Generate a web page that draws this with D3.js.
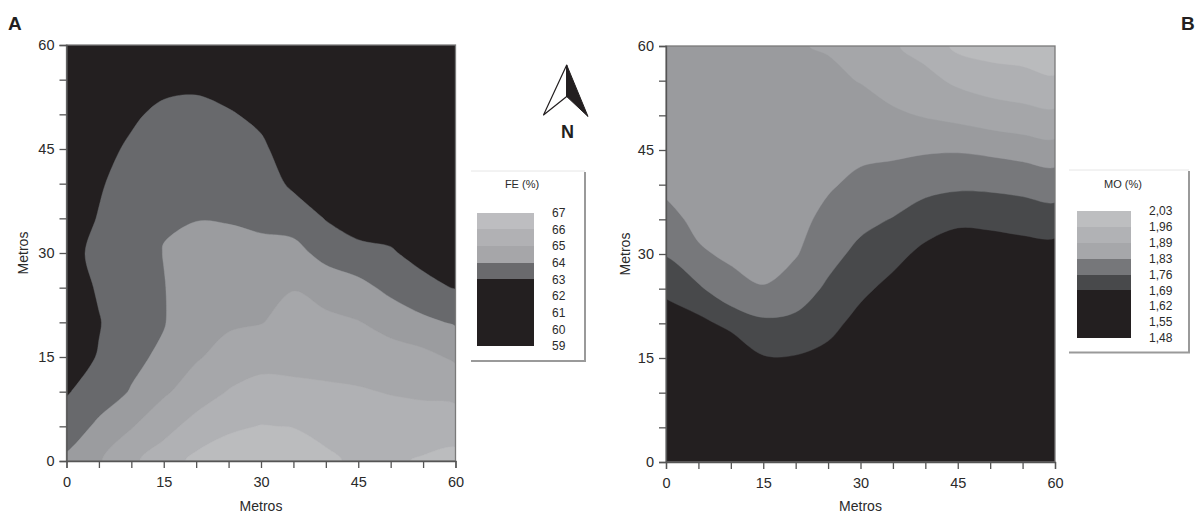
<!DOCTYPE html>
<html><head><meta charset="utf-8">
<script src="https://cdn.jsdelivr.net/npm/d3@7"></script>
<style>
body{margin:0;background:#fff}
text{font-family:"Liberation Sans",Arial,sans-serif;fill:#2a2a2a}
</style>
</head><body>
<svg id="c" width="1204" height="517"></svg>
<script>
// ---------- DATA ----------
const axisTicks = [0,5,10,15,20,25,30,35,40,45,50,55,60];
const axisLabels = [0,15,30,45,60];
const gridStep = 5; // metres between grid samples

// FE (%) grid, rows from y=60 (top) to y=0 (bottom), columns x=0..60
const feGrid = [
  [61.8,61.8,62.0,62.2,62.3,62.2,62.0,61.7,61.7,61.6,61.7,61.7,61.7],
  [61.9,62.0,62.3,62.6,62.8,62.5,62.3,61.9,61.8,61.7,61.8,61.8,61.8],
  [62.0,62.2,62.8,63.3,63.25,63.1,62.75,62.1,61.9,61.8,61.9,61.9,61.9],
  [62.1,62.6,63.2,63.6,63.5,63.45,63.2,62.4,62.1,62.0,62.1,62.0,62.0],
  [62.3,62.9,63.4,63.8,63.7,63.7,63.55,62.8,62.4,62.2,62.3,62.2,62.2],
  [62.5,63.05,63.5,63.95,63.98,63.95,63.85,63.6,62.95,62.6,62.6,62.4,62.4],
  [62.6,63.3,63.55,64.02,64.2,64.25,64.2,64.3,63.7,63.25,63.09,62.7,62.6],
  [62.5,63.1,63.6,63.97,64.44,64.55,64.65,64.96,64.56,64.33,63.73,63.27,62.95],
  [62.4,62.95,63.6,63.95,64.67,64.86,64.96,65.36,65.25,65.04,64.66,64.21,63.89],
  [62.6,63.05,63.8,64.16,64.9,65.36,65.64,65.73,65.7,65.57,65.4,65.28,64.83],
  [62.9,63.6,64.05,64.85,65.49,66.05,66.35,66.2,66.13,66.08,65.95,65.83,65.7],
  [63.55,64.15,64.93,65.67,66.35,66.85,67.03,66.97,66.7,66.45,66.45,66.5,66.55],
  [64.15,64.9,65.82,66.5,67.25,67.5,67.6,67.6,67.2,66.8,66.85,67.1,67.3]
];
const feLevels = [63,64,65,66,67];
const feColors = ["#231f20","#68696c","#9b9c9f","#a6a7aa","#b0b1b4","#bbbcbe"];
const feLegendLabels = ["67","66","65","64","63","62","61","60","59"];
const feLegendColors = ["#bdbdc0","#b1b1b4","#a6a6a9","#6a6a6d","#231f20","#231f20","#231f20","#231f20"];

// MO (%) grid, rows from y=60 (top) to y=0 (bottom), columns x=0..60
const moGrid = [
  [1.87,1.875,1.875,1.875,1.887,1.894,1.92,1.953,1.985,2.046,2.06,2.06,2.07],
  [1.865,1.87,1.87,1.87,1.876,1.879,1.892,1.917,1.94,1.973,1.995,2.009,2.022],
  [1.86,1.865,1.865,1.865,1.867,1.865,1.868,1.88,1.894,1.907,1.923,1.934,1.944],
  [1.855,1.86,1.86,1.86,1.86,1.851,1.844,1.843,1.837,1.835,1.843,1.854,1.864],
  [1.843,1.855,1.855,1.855,1.855,1.837,1.815,1.80,1.782,1.774,1.775,1.783,1.796],
  [1.811,1.845,1.85,1.85,1.848,1.814,1.778,1.757,1.724,1.70,1.706,1.716,1.726],
  [1.764,1.822,1.84,1.845,1.835,1.782,1.742,1.711,1.672,1.66,1.655,1.66,1.66],
  [1.7025,1.749,1.81,1.828,1.794,1.749,1.705,1.67,1.64,1.63,1.62,1.62,1.62],
  [1.66,1.67,1.7095,1.746,1.744,1.711,1.668,1.64,1.61,1.60,1.59,1.59,1.59],
  [1.63,1.64,1.63,1.685,1.685,1.67,1.63,1.61,1.58,1.58,1.57,1.57,1.57],
  [1.60,1.60,1.59,1.60,1.60,1.61,1.60,1.58,1.56,1.56,1.56,1.56,1.56],
  [1.57,1.57,1.56,1.56,1.56,1.57,1.57,1.56,1.55,1.55,1.55,1.55,1.55],
  [1.55,1.55,1.55,1.55,1.55,1.55,1.55,1.55,1.55,1.55,1.55,1.55,1.55]
];
const moLevels = [1.69,1.76,1.83,1.89,1.96,2.03];
const moColors = ["#231f20","#48494b","#77787b","#9a9b9e","#a5a6a9","#afb0b3","#babbbd"];
const moLegendLabels = ["2,03","1,96","1,89","1,83","1,76","1,69","1,62","1,55","1,48"];
const moLegendColors = ["#bdbec0","#b1b2b5","#a6a7aa","#76777a","#48494b","#231f20","#231f20","#231f20"];

// ---------- DRAW ----------
const svg = d3.select("#c");
svg.append("rect").attr("width",1204).attr("height",517).attr("fill","#fff");

function panel(opts){
  const {grid, levels, colors, xr, yr, id, ylabX} = opts;
  const x = d3.scaleLinear().domain([0,60]).range(xr);
  const y = d3.scaleLinear().domain([0,60]).range(yr);
  const n = grid[0].length, m = grid.length;
  const values = grid.flat();
  const g = svg.append("g");
  g.append("clipPath").attr("id",id).append("rect")
    .attr("x",xr[0]).attr("y",yr[1]).attr("width",xr[1]-xr[0]).attr("height",yr[0]-yr[1]);
  const body = g.append("g").attr("clip-path",`url(#${id})`);
  body.append("rect").attr("x",xr[0]).attr("y",yr[1]).attr("width",xr[1]-xr[0]).attr("height",yr[0]-yr[1]).attr("fill",colors[0]);
  const px = c => x((c-0.5)*gridStep);
  const py = c => y(60-(c-0.5)*gridStep);
  const line = d3.line().x(p=>px(p[0])).y(p=>py(p[1])).curve(d3.curveCatmullRomClosed.alpha(0.5));
  const ringPath = ring => {
    const pts = ring.slice(0, ring.length-1);
    return line(pts);
  };
  const contours = d3.contours().size([n,m]).thresholds(levels)(values);
  body.selectAll("path.band").data(contours).join("path")
    .attr("class","band")
    .attr("d",d => d.coordinates.map(poly => poly.map(ringPath).join("")).join(""))
    .attr("fill-rule","evenodd")
    .attr("fill",(d,i)=>colors[i+1]).attr("stroke",(d,i)=>colors[i+1]).attr("stroke-width",0.4);
  // frame
  g.append("rect").attr("x",xr[0]).attr("y",yr[1]).attr("width",xr[1]-xr[0]).attr("height",yr[0]-yr[1])
    .attr("fill","none").attr("stroke","#7a7a7a").attr("stroke-width",1.3);
  // axes
  const fmt = d => axisLabels.includes(d) ? d : "";
  const ax = g.append("g").attr("transform",`translate(0,${yr[0]})`)
    .call(d3.axisBottom(x).tickValues(axisTicks).tickFormat(fmt).tickSize(7).tickPadding(9));
  const ay = g.append("g").attr("transform",`translate(${xr[0]},0)`)
    .call(d3.axisLeft(y).tickValues(axisTicks).tickFormat(fmt).tickSize(7).tickPadding(5));
  [ax,ay].forEach(a=>{
    a.select(".domain").attr("stroke","#555").attr("stroke-width",1.3);
    a.selectAll(".tick line").attr("stroke","#555").attr("stroke-width",1.3);
    a.selectAll(".tick text").attr("font-size",14.5).attr("fill","#2a2a2a")
      .attr("font-family","'Liberation Sans',Arial,sans-serif");
  });
  g.append("text").attr("x",(xr[0]+xr[1])/2).attr("y",511).attr("text-anchor","middle")
    .attr("font-size",14).text("Metros");
  g.append("text").attr("transform",`translate(${ylabX},${(yr[0]+yr[1])/2}) rotate(-90)`)
    .attr("text-anchor","middle").attr("font-size",14).text("Metros");
}

panel({grid:feGrid, levels:feLevels, colors:feColors, xr:[66.5,455.5], yr:[461,45], id:"clipA", ylabX:28});
panel({grid:moGrid, levels:moLevels, colors:moColors, xr:[666,1055], yr:[462,46], id:"clipB", ylabX:630});

function legend(opts){
  const {title, labels, colors, bx, bw, top, bottom, lx, frame, tx} = opts;
  const g = svg.append("g");
  const yl = d3.scaleLinear().domain([0,labels.length-1]).range([top,bottom]);
  g.append("line").attr("x1",frame[0]).attr("x2",frame[1]).attr("y1",frame[2]).attr("y2",frame[2])
    .attr("stroke","#e6e6e6").attr("stroke-width",1);
  g.append("line").attr("x1",frame[1]).attr("x2",frame[1]).attr("y1",frame[2]+1).attr("y2",frame[3])
    .attr("stroke","#9a9a9a").attr("stroke-width",2);
  g.append("line").attr("x1",frame[0]).attr("x2",frame[1]+1).attr("y1",frame[3]).attr("y2",frame[3])
    .attr("stroke","#9a9a9a").attr("stroke-width",2);
  g.append("text").attr("x",tx).attr("y",188).attr("text-anchor","middle").attr("font-size",11).text(title);
  g.selectAll("rect.sw").data(colors).join("rect").attr("class","sw")
    .attr("x",bx).attr("width",bw)
    .attr("y",(d,i)=>Math.round(yl(i))).attr("height",(d,i)=>Math.round(yl(i+1))-Math.round(yl(i)))
    .attr("shape-rendering","crispEdges")
    .attr("fill",d=>d);
  g.selectAll("text.lb").data(labels).join("text").attr("class","lb")
    .attr("x",lx).attr("y",(d,i)=>yl(i)).attr("dy","0.35em").attr("font-size",12).text(d=>d);
}
legend({title:"FE (%)", labels:feLegendLabels, colors:feLegendColors, bx:477, bw:57, top:212.7, bottom:346,
        lx:552, frame:[471,585,171,361], tx:522});
legend({title:"MO (%)", labels:moLegendLabels, colors:moLegendColors, bx:1077, bw:54, top:211, bottom:338,
        lx:1149, frame:[1069,1189,170,352.5], tx:1123});

// North arrow
const na = svg.append("g");
na.append("path").attr("d","M566.7,65 L543.5,115 L566.7,96.5 Z").attr("fill","#fff").attr("stroke","#231f20").attr("stroke-width",1.2).attr("stroke-linejoin","round");
na.append("path").attr("d","M566.7,65 L588,116.5 L566.7,96.5 Z").attr("fill","#231f20").attr("stroke","#231f20").attr("stroke-width",1);
na.append("text").attr("x",567.5).attr("y",138).attr("text-anchor","middle").attr("font-size",18).attr("font-weight","bold").style("fill","#231f20").text("N");

// panel letters
svg.append("text").attr("x",8).attr("y",30).attr("font-size",19).attr("font-weight","bold").style("fill","#231f20").text("A");
svg.append("text").attr("x",1181).attr("y",30).attr("font-size",19).attr("font-weight","bold").style("fill","#231f20").text("B");
</script>
</body></html>
